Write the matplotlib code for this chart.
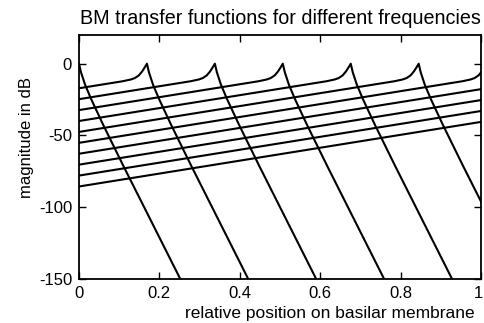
import numpy as np
import matplotlib
matplotlib.use("Agg")
import matplotlib.pyplot as plt
import matplotlib.transforms as mtransforms

plt.rcParams['font.family'] = ['Liberation Sans', 'DejaVu Sans']

# peak positions (characteristic places) of the frequencies shown
peak_pos = [0.0, 0.169, 0.338, 0.507, 0.676, 0.845, 1.014, 1.183, 1.352, 1.521, 1.69]

# shape of one transfer function relative to its peak
shape_dx = [-1.80, -0.06, -0.04, -0.03, -0.02, -0.012, -0.006, 0.0,
            0.005, 0.015, 0.03, 0.06, 0.11, 0.252, 0.29]
shape_db = [-90.5, -12.2, -11.0, -10.0, -8.1, -5.4, -2.8, 0.0,
            -6.0, -14.5, -24.5, -42.5, -71.0, -150.0, -171.0]

fig = plt.figure(figsize=(4.84, 3.23), dpi=100)
ax = fig.add_axes([79/484, 1-279/323, (481-79)/484, (279-35)/323])

for p in peak_pos:
    x = np.array(shape_dx) + p
    ax.plot(x, shape_db, color='black', lw=1.5)

ax.set_xlim(0, 1)
ax.set_ylim(-150, 20)
ax.set_xticks([0, 0.2, 0.4, 0.6, 0.8, 1])
ax.set_xticklabels(['0', '0.2', '0.4', '0.6', '0.8', '1'])
ax.set_yticks([0, -50, -100, -150])
ax.set_yticklabels(['0', '-50', '-100', '-150'])
ax.tick_params(direction='in', top=True, right=True, length=5, width=1,
               labelsize=12, pad=5)
for s in ax.spines.values():
    s.set_linewidth(1.3)

# keep the "1" at the right edge inside the picture
last = ax.get_xticklabels()[-1]
last.set_transform(last.get_transform() +
                   mtransforms.ScaledTranslation(-3/100, 0, fig.dpi_scale_trans))

ax.set_title('BM transfer functions for different frequencies', fontsize=14.2, pad=8)
ax.set_xlabel('relative position on basilar membrane', fontsize=12.5, va='baseline')
ax.xaxis.set_label_coords(0.624, -0.16)
ax.set_ylabel('magnitude in dB', fontsize=12, va='baseline')
ax.yaxis.set_label_coords(-0.12, 0.578)

fig.savefig('out.png', dpi=100)
